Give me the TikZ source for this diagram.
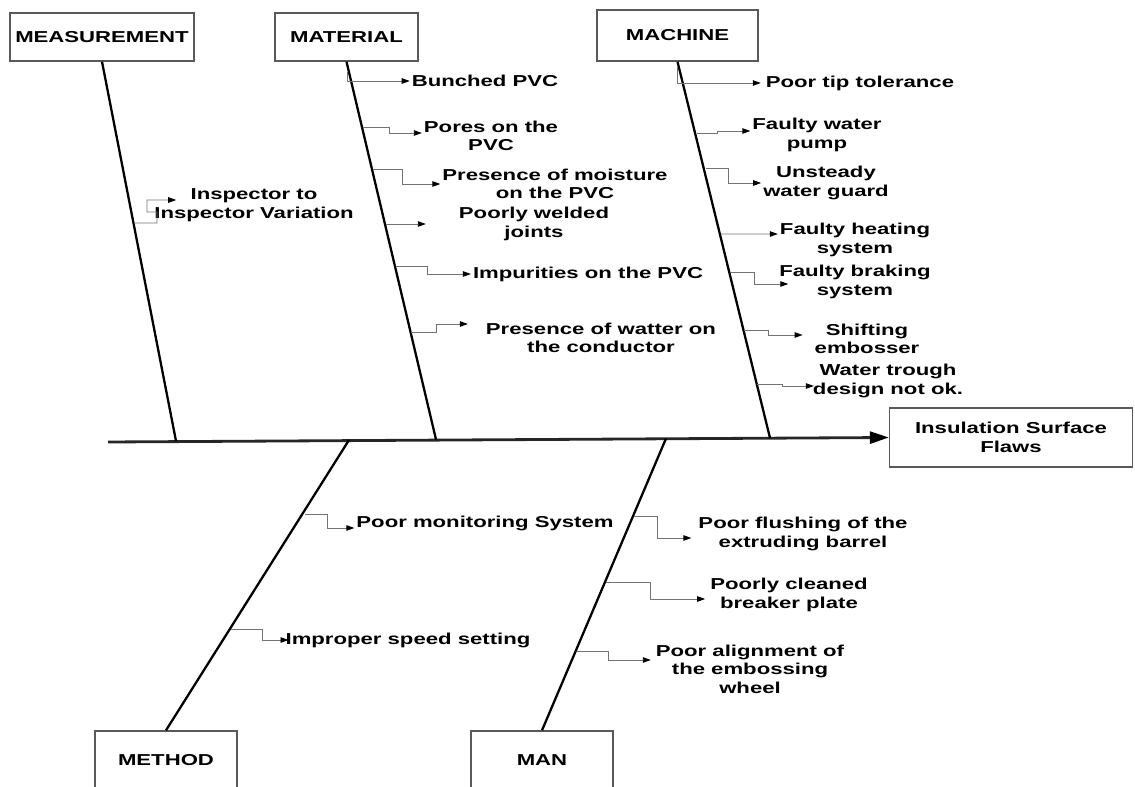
\documentclass[tikz,border=0pt]{standalone}
\usepackage{fontspec}
\newfontfamily\labelfont[FakeStretch=1.4]{Liberation Sans}
\usetikzlibrary{arrows.meta}

\begin{document}
\begin{tikzpicture}[
  x=0.02cm, y=-0.02cm,
  every node/.style={font=\labelfont\bfseries\fontsize{9}{10.5}\selectfont},
  catbox/.style={draw=black!65, line width=0.8pt, inner sep=0pt},
  cause/.style={align=center, inner sep=1pt},
  bone/.style={line width=1.3pt},
  spine/.style={draw=black!85, line width=1.6pt, -{Triangle[length=3.8mm,width=2.4mm,color=black]}},
  branch/.style={draw=black!55, line width=0.5pt, -{Triangle[length=1.6mm,width=1.1mm,color=black]}},
]

\useasboundingbox (0,0) rectangle (1135,787);

% category boxes and effect
\node[catbox, minimum width=3.68cm, minimum height=0.96cm] (meas) at (102,37) {MEASUREMENT};
\node[catbox, minimum width=2.86cm, minimum height=0.96cm] (mat) at (346.5,37) {MATERIAL};
\node[catbox, minimum width=3.22cm, minimum height=1.02cm] (mach) at (677.5,35.5) {MACHINE};
\node[catbox, minimum width=2.84cm, minimum height=1.16cm] (meth) at (166,760) {METHOD};
\node[catbox, minimum width=2.84cm, minimum height=1.16cm] (man) at (542,760) {MAN};
\node[catbox, minimum width=4.86cm, minimum height=1.18cm, align=center] (effect) at (1011,437.5) {Insulation Surface\\Flaws};

% spine and bones
\coordinate (tail) at (108,442);
\coordinate (jMeas) at (176,441);
\coordinate (jMat) at (436,439.5);
\coordinate (jMach) at (770,438);
\coordinate (jMeth) at (349,440);
\coordinate (jMan) at (666,438.5);
\draw[spine] (tail) -- (effect.west);
\draw[bone] (meas.south) -- (jMeas);
\draw[bone] (mat.south) -- (jMat);
\draw[bone] (mach.south) -- (jMach);
\draw[bone] (meth.north) -- (jMeth);
\draw[bone] (man.north) -- (jMan);

% measurement
\node[cause] (insp) at (254,205) {Inspector to\\Inspector Variation};
\draw[branch] (134,223) -| (157,212) -| (147,200) -- ([xshift=0.48cm,yshift=0.1cm]insp.west);

% material
\node[cause] (bunched) at (485,81) {Bunched PVC};
\node[cause] (pores) at (491,136) {Pores on the\\PVC};
\node[cause] (moist) at (555,184) {Presence of moisture\\on the PVC};
\node[cause] (welded) at (534,224) {Poorly welded\\joints};
\node[cause] (impur) at (588,274) {Impurities on the PVC};
\node[cause] (watter) at (601,338) {Presence of watter on\\the conductor};
\draw[branch] (347,72) |- (bunched.west);
\draw[branch] (363,127) -- (389,127) |- ([yshift=0.06cm]pores.west);
\draw[branch] (373,169) -- (402,169) |- (moist.west);
\draw[branch] (386,224) -- ([xshift=-0.62cm]welded.west);
\draw[branch] (396,266) -- (427,266) |- (impur.west);
\draw[branch] (411,332) -- (436,332) |- ([xshift=-0.32cm,yshift=0.28cm]watter.west);

% machine
\node[cause] (tiptol) at (860,83) {Poor tip tolerance};
\node[cause] (pump) at (817,135) {Faulty water\\pump};
\node[cause] (guard) at (826,183) {Unsteady\\water guard};
\node[cause] (heat) at (855,240) {Faulty heating\\system};
\node[cause] (brake) at (855,282) {Faulty braking\\system};
\node[cause] (shift) at (867,339) {Shifting\\embosser};
\node[cause] (trough) at (888,381) {Water trough\\design not ok.};
\draw[branch] (677,66) |- ([xshift=-0.06cm]tiptol.west);
\draw[branch] (697,133) -- (717,133) |- ([yshift=0.08cm]pump.west);
\draw[branch] (706,168) -- (728,168) |- (guard.west);
\draw[branch] (721,234) -- ([yshift=0.12cm]heat.west);
\draw[branch] (731,272) -- (754,272) |- ([xshift=0.22cm,yshift=-0.04cm]brake.west);
\draw[branch] (744,330) -- (768,330) |- ([xshift=-0.2cm,yshift=0.08cm]shift.west);
\draw[branch] (757,384) -- (782,384) |- ([xshift=0.06cm,yshift=-0.1cm]trough.west);

% method
\node[cause] (monit) at (485,523) {Poor monitoring System};
\node[cause] (speed) at (408,640) {Improper speed setting};
\draw[branch] (305,514) -- (327,514) |- ([yshift=-0.1cm]monit.west);
\draw[branch] (231,629) -- (262,629) |- ([xshift=0.1cm]speed.west);

% man
\node[cause] (flush) at (803,534) {Poor flushing of the\\extruding barrel};
\node[cause] (plate) at (789,595) {Poorly cleaned\\breaker plate};
\node[cause] (wheel) at (750,669) {Poor alignment of\\the embossing\\wheel};
\draw[branch] (634,516) -- (657,516) |- ([xshift=-0.1cm,yshift=-0.08cm]flush.west);
\draw[branch] (606,582) -- (650,582) |- ([xshift=-0.06cm,yshift=-0.08cm]plate.west);
\draw[branch] (577,651) -- (608,651) |- ([xshift=-0.06cm,yshift=0.18cm]wheel.west);

\end{tikzpicture}
\end{document}
